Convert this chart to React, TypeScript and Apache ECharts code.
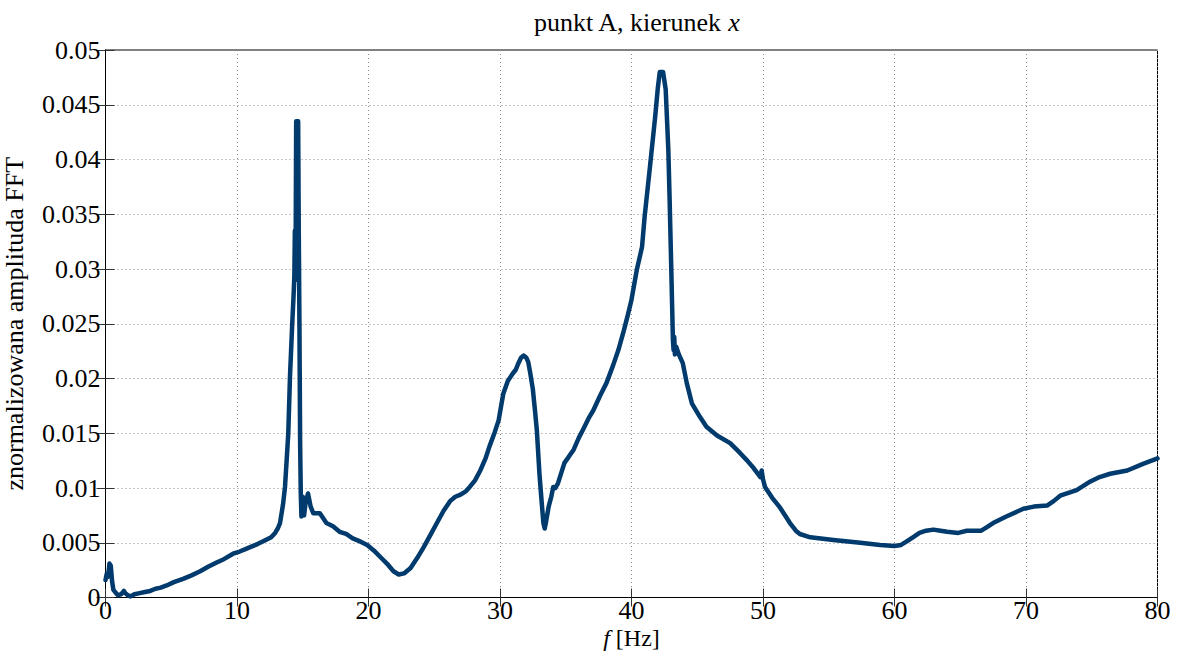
import React, { useEffect, useRef } from "react";
import * as echarts from "echarts";

const titleText = "punkt A, kierunek ";
const titleItalic = "x";
const yAxisName = "znormalizowana amplituda FFT";
const xTickLabels = ["0", "10", "20", "30", "40", "50", "60", "70", "80"];
const yTickLabels = ["0", "0.005", "0.01", "0.015", "0.02", "0.025", "0.03", "0.035", "0.04", "0.045", "0.05"];

const freqHz = [
  0.0, 0.1, 0.2, 0.3, 0.4, 0.5, 0.6, 0.8, 0.95, 1.2, 1.4, 1.5, 1.7, 1.9, 2.2, 2.6, 3.0, 3.4, 3.8, 4.2,
  4.65, 5.2, 5.9, 6.5, 7.2, 7.8, 8.45, 9.0, 9.7, 10.2, 10.6, 11.0, 11.6, 12.26, 12.6, 12.9, 13.1, 13.27, 13.5, 13.65,
  13.8, 13.9, 14.03, 14.2, 14.3, 14.36, 14.4, 14.45, 14.5, 14.65, 14.7, 14.75, 14.8, 14.85, 14.9, 15.0, 15.1, 15.2, 15.4, 15.6,
  15.8, 16.3, 16.8, 17.3, 17.8, 18.3, 18.8, 19.4, 19.9, 20.4, 20.9, 21.4, 21.9, 22.3, 22.7, 23.2, 23.7, 24.2, 24.7, 25.2,
  25.7, 26.2, 26.6, 27.0, 27.4, 27.7, 28.1, 28.5, 28.9, 29.2, 29.6, 29.9, 30.1, 30.25, 30.6, 31.0, 31.2, 31.4, 31.6, 31.8,
  32.0, 32.15, 32.3, 32.5, 32.65, 32.8, 33.0, 33.15, 33.3, 33.4, 33.5, 33.7, 33.9, 34.05, 34.2, 34.4, 34.9, 35.2, 35.6, 36.0,
  36.3, 36.8, 37.1, 37.6, 38.1, 38.6, 39.0, 39.4, 39.7, 40.0, 40.4, 40.8, 41.0, 41.4, 41.8, 42.0, 42.15, 42.4, 42.6, 42.8,
  42.9, 43.05, 43.15, 43.2, 43.25, 43.3, 43.4, 43.6, 43.9, 44.2, 44.6, 45.2, 45.7, 46.5, 47.5, 48.25, 48.8, 49.3, 49.8, 49.9,
  50.0, 50.15, 50.7, 51.3, 52.05, 52.5, 52.8, 53.6, 55.35, 57.4, 58.9, 60.0, 60.5, 60.9, 61.4, 61.9, 62.4, 62.95, 63.5, 64.0,
  64.85, 65.5, 66.6, 67.0, 67.5, 68.5, 69.8, 70.6, 71.6, 72.1, 72.6, 73.85, 74.9, 75.6, 76.4, 77.7, 78.9, 80.0,
];

const amplitude = [
  0.0016, 0.0022, 0.0019, 0.0031, 0.0029, 0.0015, 0.0007, 0.0004, 0.0002, 0.0003, 0.0006, 0.0004, 0.0002, 0.0001, 0.0003, 0.0004, 0.0005, 0.0006, 0.0008, 0.0009,
  0.0011, 0.0014, 0.0017, 0.002, 0.0024, 0.0028, 0.0032, 0.0035, 0.004, 0.0042, 0.0044, 0.0046, 0.0049, 0.0053, 0.0055, 0.0059, 0.0063, 0.0068, 0.0085, 0.0101,
  0.013, 0.015, 0.0202, 0.025, 0.0275, 0.0293, 0.0335, 0.029, 0.0435, 0.0435, 0.033, 0.0247, 0.0141, 0.0095, 0.0074, 0.0092, 0.0075, 0.0085, 0.0095, 0.0083,
  0.0077, 0.0077, 0.0068, 0.0065, 0.006, 0.0058, 0.0054, 0.0051, 0.0048, 0.0043, 0.0037, 0.0031, 0.0024, 0.0021, 0.0022, 0.0027, 0.0036, 0.0046, 0.0057, 0.0068,
  0.0079, 0.0088, 0.0092, 0.0094, 0.0097, 0.0101, 0.0107, 0.0116, 0.0127, 0.0138, 0.0151, 0.0162, 0.0176, 0.0186, 0.0198, 0.0205, 0.0208, 0.0214, 0.0219, 0.0221,
  0.0219, 0.0215, 0.0205, 0.019, 0.0172, 0.0153, 0.0113, 0.009, 0.0068, 0.0063, 0.0069, 0.0083, 0.0092, 0.0101, 0.01, 0.0104, 0.0123, 0.0128, 0.0135, 0.0146,
  0.0153, 0.0165, 0.0171, 0.0184, 0.0196, 0.0212, 0.0226, 0.0243, 0.0257, 0.0272, 0.0299, 0.032, 0.0348, 0.0393, 0.0439, 0.0465, 0.048, 0.048, 0.0464, 0.0409,
  0.0363, 0.0287, 0.0235, 0.0226, 0.0238, 0.0222, 0.0229, 0.0222, 0.0214, 0.0196, 0.0177, 0.0165, 0.0156, 0.0148, 0.0141, 0.0132, 0.0125, 0.0118, 0.011, 0.0116,
  0.0108, 0.0101, 0.0091, 0.0082, 0.0068, 0.0061, 0.0058, 0.0055, 0.00525, 0.005, 0.0048, 0.0047, 0.0048, 0.0051, 0.0055, 0.0059, 0.0061, 0.0062, 0.0061, 0.006,
  0.0059, 0.0061, 0.0061, 0.0064, 0.0068, 0.0074, 0.0081, 0.0083, 0.0084, 0.0088, 0.0093, 0.0098, 0.0106, 0.011, 0.0113, 0.0116, 0.0122, 0.0127,
];

const FONT = "Liberation Serif";

export default function App() {
  const ref = useRef<HTMLDivElement>(null);

  useEffect(() => {
    if (!ref.current) return;
    const chart = echarts.init(ref.current, null, { renderer: "svg" });
    const data = freqHz.map((f, i) => [f, amplitude[i]]);
    const yFmt = (v: number) => yTickLabels[Math.round(v / 0.005)] ?? "";
    const xFmt = (v: number) => xTickLabels[Math.round(v / 10)] ?? "";
    const tickStyle = { show: true, inside: true, length: 9, lineStyle: { color: "#333", width: 1 } };
    const splitStyle = { show: true, lineStyle: { color: "#8a8a8a", width: 1, type: [1, 3] as any } };

    chart.setOption({
      animation: false,
      backgroundColor: "#ffffff",
      textStyle: { fontFamily: FONT },
      title: {
        text: `${titleText}{i|${titleItalic}}`,
        left: 631.5,
        textAlign: "center",
        top: 4,
        textStyle: {
          fontFamily: FONT,
          fontSize: 26,
          fontWeight: "normal",
          color: "#000",
          rich: { i: { fontFamily: FONT, fontSize: 26, fontStyle: "italic", color: "#000" } },
        },
      },
      grid: {
        left: 105.5,
        right: 19.5,
        top: 50,
        bottom: 55.5,
        containLabel: false,
        outerBoundsMode: "none",
        show: true,
        borderColor: "#000",
        borderWidth: 1,
        backgroundColor: "transparent",
      },
      xAxis: [
        {
          type: "value",
          min: 0,
          max: 80,
          interval: 10,
          position: "bottom",
          axisLine: { show: true, lineStyle: { color: "#000", width: 1 } },
          axisTick: tickStyle,
          splitLine: splitStyle,
          axisLabel: { formatter: xFmt, fontFamily: FONT, fontSize: 26, lineHeight: 22, color: "#000", margin: 2 },
          name: "{i|f} [Hz]",
          nameLocation: "middle",
          nameGap: 29,
          nameMoveOverlap: false,
          nameTextStyle: {
            fontFamily: FONT,
            fontSize: 24,
            lineHeight: 22,
            color: "#000",
            rich: { i: { fontFamily: FONT, fontSize: 24, lineHeight: 22, fontStyle: "italic", color: "#000" } },
          },
        },
        {
          type: "value",
          min: 0,
          max: 80,
          interval: 10,
          position: "top",
          axisLine: { show: true, lineStyle: { color: "#000", width: 1 } },
          axisTick: tickStyle,
          splitLine: { show: false },
          axisLabel: { show: false },
        },
      ],
      yAxis: [
        {
          type: "value",
          min: 0,
          max: 0.05,
          interval: 0.005,
          position: "left",
          axisLine: { show: true, lineStyle: { color: "#000", width: 1 } },
          axisTick: tickStyle,
          splitLine: splitStyle,
          axisLabel: { formatter: yFmt, fontFamily: FONT, fontSize: 26, color: "#000", margin: 5 },
          name: yAxisName,
          nameLocation: "middle",
          nameGap: 78,
          nameMoveOverlap: false,
          nameTextStyle: { fontFamily: FONT, fontSize: 26, color: "#000" },
        },
        {
          type: "value",
          min: 0,
          max: 0.05,
          interval: 0.005,
          position: "right",
          axisLine: { show: true, lineStyle: { color: "#000", width: 1 } },
          axisTick: tickStyle,
          splitLine: { show: false },
          axisLabel: { show: false },
        },
      ],
      series: [
        {
          type: "line",
          data,
          xAxisIndex: 0,
          yAxisIndex: 0,
          showSymbol: false,
          symbol: "none",
          lineStyle: { color: "#013a6c", width: 4.5, join: "round", cap: "round" },
          silent: true,
        },
      ],
    });
    return () => chart.dispose();
  }, []);

  return (
    <div
      ref={ref}
      style={{ position: "fixed", left: 0, top: 0, width: 1177, height: 653, background: "#fff" }}
    />
  );
}
